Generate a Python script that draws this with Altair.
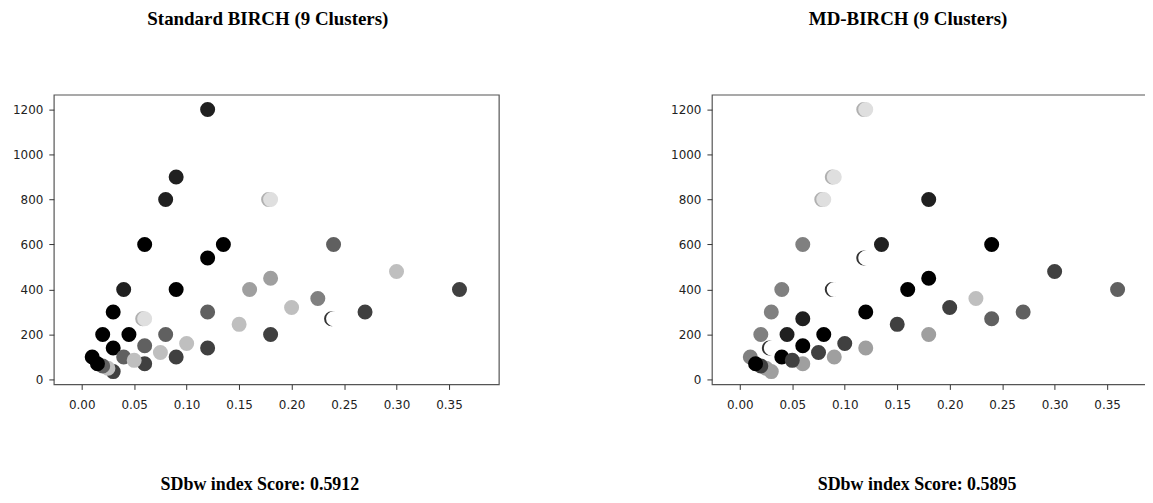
import altair as alt
import pandas as pd

# Data (same points in both panels, different cluster shades)
x_vals = [0.12, 0.09, 0.08, 0.06, 0.135, 0.12, 0.04, 0.09, 0.03, 0.06,
          0.12, 0.02, 0.045, 0.08, 0.03, 0.01, 0.04, 0.06, 0.075, 0.09,
          0.10, 0.12, 0.06, 0.05, 0.03, 0.025, 0.02, 0.015, 0.15, 0.16,
          0.18, 0.18, 0.18, 0.20, 0.225, 0.24, 0.30, 0.36, 0.27, 0.24]
y_vals = [1200, 900, 800, 600, 600, 540, 400, 400, 300, 270,
          300, 200, 200, 200, 140, 100, 100, 150, 120, 100,
          160, 140, 70, 85, 35, 50, 60, 70, 245, 400,
          450, 800, 200, 320, 360, 600, 480, 400, 300, 270]
# gray level index 0 (black) .. 8 (white)
std_levels = [1, 1, 1, 0, 0, 0, 1, 0, 0, 7,
              3, 0, 0, 3, 0, 0, 3, 3, 6, 2,
              6, 2, 2, 6, 2, 6, 3, 0, 6, 5,
              5, 7, 2, 6, 4, 3, 6, 2, 2, 8]
md_levels = [7, 7, 7, 4, 1, 8, 4, 8, 4, 1,
             0, 4, 1, 0, 8, 4, 0, 0, 2, 5,
             2, 5, 5, 2, 5, 5, 2, 0, 2, 0,
             0, 1, 5, 2, 6, 0, 2, 3, 3, 3]
gray_palette = ["#000000", "#202020", "#404040", "#606060", "#808080",
                "#9f9f9f", "#bfbfbf", "#dfdfdf", "#ffffff"]
shadow_palette = ["#000000", "#202020", "#404040", "#606060", "#808080",
                  "#9f9f9f", "#bfbfbf", "#b0b0b0", "#333333"]
x_ticks = [0.0, 0.05, 0.10, 0.15, 0.20, 0.25, 0.30, 0.35]
y_ticks = [0, 200, 400, 600, 800, 1000, 1200]
titles = ["Standard BIRCH (9 Clusters)", "MD-BIRCH (9 Clusters)"]
scores = ["SDbw index Score: 0.5912", "SDbw index Score: 0.5895"]

W, H = 447, 291
SERIF = "Liberation Serif"


def panel(levels, title, score, title_dx, score_x):
    df = pd.DataFrame({
        "x": x_vals,
        "y": y_vals,
        "lvl": levels,
        "c": [gray_palette[l] for l in levels],
        "s": [shadow_palette[l] for l in levels],
    })
    xs = alt.X(
        "x:Q",
        scale=alt.Scale(domain=[-0.0266, 0.3975], nice=False, zero=False),
        axis=alt.Axis(
            values=x_ticks, format=".2f", title=score, labelPadding=10,
            titleFont=SERIF, titleFontSize=18, titleFontWeight="bold",
            titleColor="#000000", titleX=score_x, titleY=110,
            titleAlign="center", titleBaseline="bottom",
        ),
    )
    ys = alt.Y(
        "y:Q",
        scale=alt.Scale(domain=[-22, 1266], nice=False, zero=False),
        axis=alt.Axis(values=y_ticks, format="d", title=None, labelPadding=6),
    )
    base = alt.Chart(df)
    shadow = base.transform_filter(alt.datum.lvl >= 7).mark_circle(
        size=227, opacity=1, xOffset=-2
    ).encode(x=xs, y=ys, color=alt.Color("s:N", scale=None))
    pts = base.mark_circle(size=227, opacity=1).encode(
        x=xs, y=ys, color=alt.Color("c:N", scale=None)
    )
    return alt.layer(shadow, pts).properties(
        width=W, height=H,
        title=alt.TitleParams(
            text=title, font=SERIF, fontSize=19, fontWeight="bold",
            color="#000000", anchor="middle", offset=66, dx=title_dx,
        ),
    )


left = panel(std_levels, titles[0], scores[0], -8.5, 206.5)
right = panel(md_levels, titles[1], scores[1], -26.5, 205.5)

chart = alt.hconcat(left, right, spacing=170).properties(
    padding={"left": 3, "top": 0, "right": -13, "bottom": 0},
    background="white",
).configure_view(
    stroke="#555555", strokeWidth=1.2
).configure_axis(
    domain=False, grid=False,
    tickColor="#333333", tickSize=5, tickWidth=1,
    labelFont="DejaVu Sans", labelFontSize=12, labelColor="#222222",
)

chart.save("out.html", embed_options={"renderer": "svg", "actions": False})
